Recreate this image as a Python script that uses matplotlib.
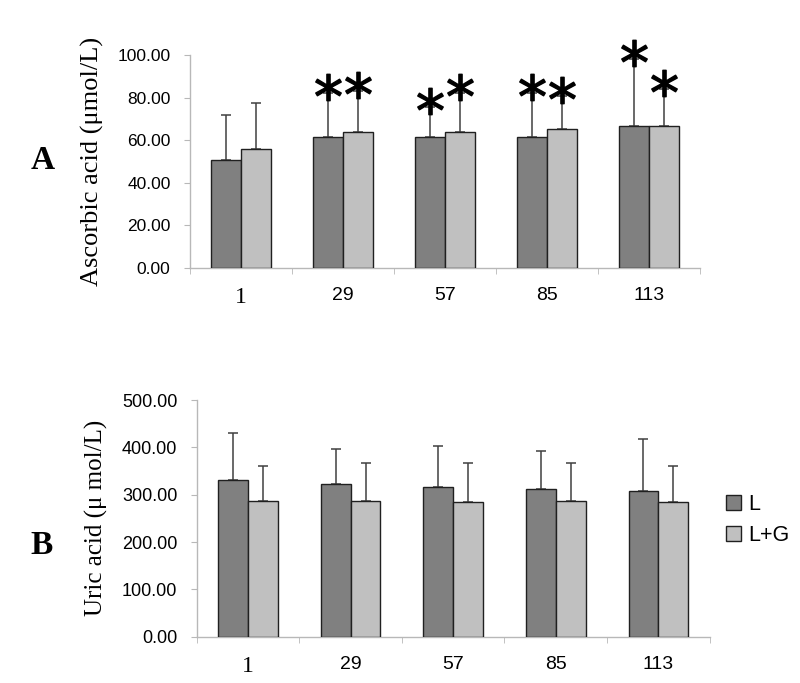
import matplotlib
matplotlib.use("Agg")
import matplotlib.pyplot as plt
from matplotlib.patches import Patch
import numpy as np

days = ['1', '29', '57', '85', '113']

# panel A: ascorbic acid (umol/L), mean and upper SD
aa_l = [50.7, 61.7, 61.4, 61.7, 66.7]
aa_l_sd = [21.1, 20.3, 14.1, 20.3, 31.3]
aa_lg = [55.9, 63.7, 63.7, 65.1, 66.7]
aa_lg_sd = [21.4, 19.3, 18.3, 15.4, 17.3]
aa_l_star = [False, True, True, True, True]
aa_lg_star = [False, True, True, True, True]

# panel B: uric acid (umol/L)
ua_l = [330, 322, 317, 311, 307]
ua_l_sd = [100, 74, 86, 81, 111]
ua_lg = [287, 287, 285, 287, 285]
ua_lg_sd = [73, 79, 81, 79, 76]

DARK = '#808080'
LIGHT = '#c0c0c0'
AXC = '#b8b8b8'
SANS = 'Liberation Sans'
SERIF = 'Liberation Serif'

fig = plt.figure(figsize=(8, 6.83), dpi=100)
axA = fig.add_axes([0.2375, 0.6076, 0.6375, 0.312])
axB = fig.add_axes([0.246, 0.0678, 0.641, 0.3465])

w = 0.29


def draw_panel(ax, l, l_sd, lg, lg_sd, ymax, ystep, tick_fs):
    x = np.arange(len(days))
    zeros = [0] * len(days)
    ax.bar(x - w / 2, l, w, color=DARK, edgecolor='#202020', linewidth=1.0, zorder=3)
    ax.bar(x + w / 2, lg, w, color=LIGHT, edgecolor='#202020', linewidth=1.0, zorder=3)
    ax.errorbar(x - w / 2, l, yerr=[zeros, l_sd], fmt='none', ecolor='#404040',
                elinewidth=1.1, capsize=3.5, capthick=1.1, zorder=2)
    ax.errorbar(x + w / 2, lg, yerr=[zeros, lg_sd], fmt='none', ecolor='#404040',
                elinewidth=1.1, capsize=3.5, capthick=1.1, zorder=2)
    ax.set_xlim(-0.5, len(days) - 0.5)
    ax.set_ylim(0, ymax)
    ax.set_yticks(np.arange(0, ymax + 1, ystep))
    ax.set_yticklabels(['%.2f' % v for v in np.arange(0, ymax + 1, ystep)],
                       fontfamily=SANS, fontsize=tick_fs)
    ax.set_xticks(x)
    ax.set_xticklabels(days, fontfamily=SANS, fontsize=14)
    ax.get_xticklabels()[0].set_fontfamily(SERIF)
    ax.get_xticklabels()[0].set_fontsize(17)
    ax.tick_params(axis='x', length=0, pad=14)
    ax.set_xticks(np.arange(-0.5, len(days)), minor=True)
    ax.tick_params(axis='x', which='minor', length=4, color=AXC, direction='out')
    ax.tick_params(axis='y', length=4, color=AXC, pad=10)
    for s in ['top', 'right']:
        ax.spines[s].set_visible(False)
    for s in ['left', 'bottom']:
        ax.spines[s].set_color(AXC)
        ax.spines[s].set_linewidth(1.0)
    return x


x = draw_panel(axA, aa_l, aa_l_sd, aa_lg, aa_lg_sd, 100, 20, 12.5)
for i in range(len(days)):
    if aa_l_star[i]:
        axA.plot(x[i] - w / 2, aa_l[i] + aa_l_sd[i] + 3, marker='$*$', ms=19,
                 color='black', zorder=5, clip_on=False)
    if aa_lg_star[i]:
        axA.plot(x[i] + w / 2, aa_lg[i] + aa_lg_sd[i] + 3, marker='$*$', ms=19,
                 color='black', zorder=5, clip_on=False)
axA.set_ylabel('Ascorbic acid (\u03bcmol/L)', fontfamily=SERIF, fontsize=19, labelpad=10)

draw_panel(axB, ua_l, ua_l_sd, ua_lg, ua_lg_sd, 500, 100, 13)
axB.set_ylabel('Uric acid (\u03bc mol/L)', fontfamily=SERIF, fontsize=18, labelpad=10)

fig.text(0.038, 0.765, 'A', fontfamily=SERIF, fontsize=24, fontweight='bold', va='center')
fig.text(0.038, 0.202, 'B', fontfamily=SERIF, fontsize=24, fontweight='bold', va='center')

handles = [Patch(facecolor=DARK, edgecolor='#202020', label='L'),
           Patch(facecolor=LIGHT, edgecolor='#202020', label='L+G')]
fig.legend(handles=handles, loc='center left', bbox_to_anchor=(0.908, 0.239),
           frameon=False, prop={'family': SANS, 'size': 15.5}, handlelength=0.7,
           handleheight=0.7, handletextpad=0.3, labelspacing=0.45, borderpad=0,
           borderaxespad=0)

fig.savefig('out.png', dpi=100)
